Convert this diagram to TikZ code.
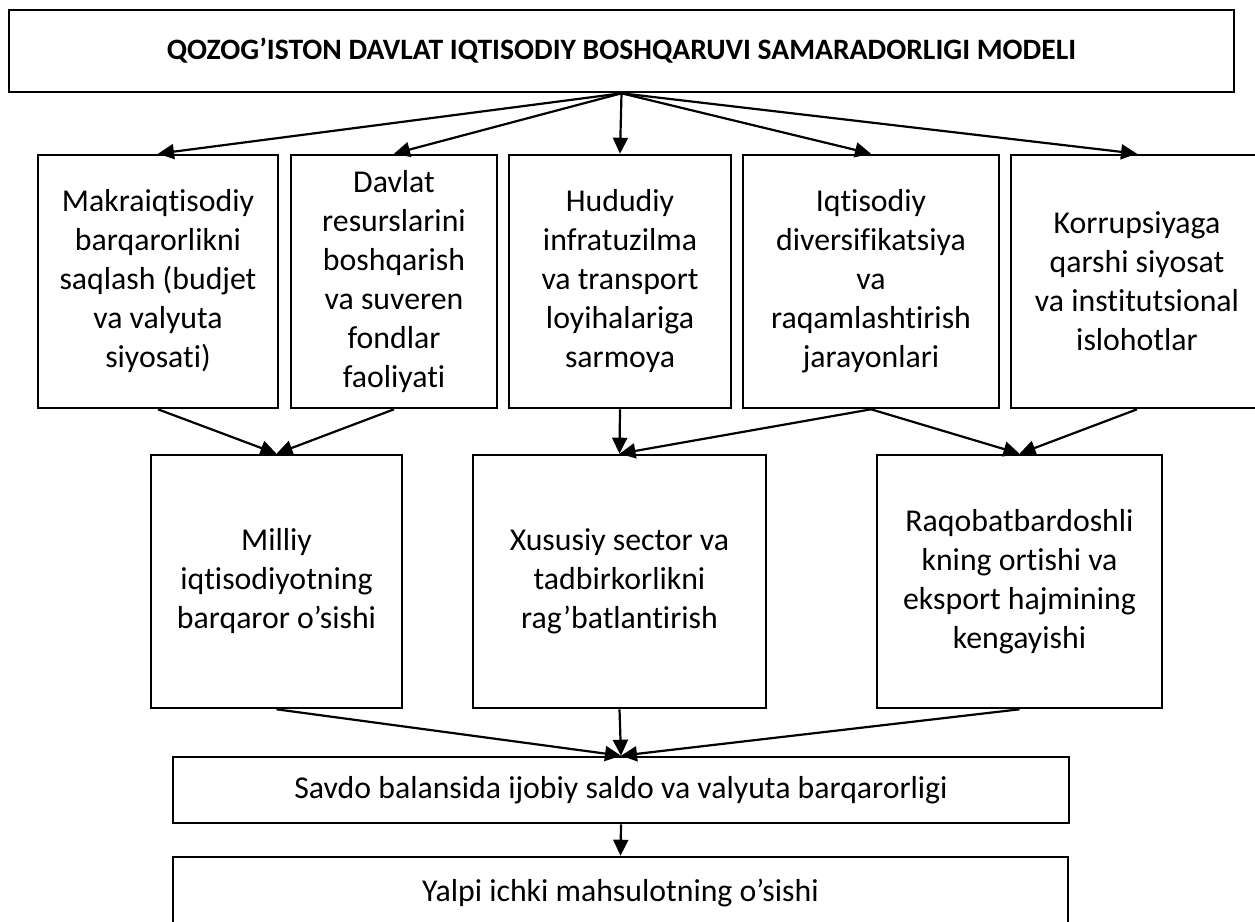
\documentclass[tikz,border=0pt]{standalone}
\usepackage{fontspec}
\setmainfont{Carlito}[RawFeature={-liga;-clig;-calt;-dlig}]
\usetikzlibrary{arrows.meta}
\tikzset{
  model-box/.style={draw, line width=2.6pt, rectangle, align=center, inner sep=0pt,
    font=\fontsize{31.8}{39}\selectfont},
  model-title/.style={model-box, font=\bfseries\fontsize{29.6}{34}\selectfont},
  model-path/.style={line width=2.2pt, -{Triangle[length=16pt,width=15pt]}},
}

\begin{document}
\begin{tikzpicture}[x=1pt, y=-1pt]
\useasboundingbox (0,0) rectangle (1255,921);
\clip (0,0) rectangle (1255,921);
% top box
\node[model-title, minimum width=1225, minimum height=82] (model) at (621.5,51)
  {QOZOG’ISTON DAVLAT IQTISODIY BOSHQARUVI SAMARADORLIGI MODELI};
% directions
\node[model-box, minimum width=240, minimum height=253] (makro) at (158,281.5)
  {Makraiqtisodiy\\barqarorlikni\\saqlash (budjet\\va valyuta\\siyosati)};
\node[model-box, minimum width=206, minimum height=253] (resurs) at (394,281.5)
  {Davlat\\resurslarini\\boshqarish\\va suveren\\fondlar\\faoliyati};
\node[model-box, minimum width=222, minimum height=253] (hudud) at (620,281.5)
  {Hududiy\\infratuzilma\\va transport\\loyihalariga\\sarmoya};
\node[model-box, minimum width=256, minimum height=253] (divers) at (871,281.5)
  {Iqtisodiy\\diversifikatsiya\\va\\raqamlashtirish\\jarayonlari};
\node[model-box, minimum width=252, minimum height=253] (korrup) at (1137,281.5)
  {Korrupsiyaga\\qarshi siyosat\\va institutsional\\islohotlar};
% results
\node[model-box, minimum width=251, minimum height=253] (milliy) at (276.5,581.5)
  {Milliy\\iqtisodiyotning\\barqaror o’sishi};
\node[model-box, minimum width=293, minimum height=253] (xususiy) at (619.5,581.5)
  {Xususiy sector va\\tadbirkorlikni\\rag’batlantirish};
\node[model-box, minimum width=285, minimum height=253] (raqobat) at (1019.5,581.5)
  {Raqobatbardoshli\\kning ortishi va\\eksport hajmining\\kengayishi};
\node[model-box, minimum width=896, minimum height=66] (savdo) at (621,790)
  {Savdo balansida ijobiy saldo va valyuta barqarorligi};
\node[model-box, minimum width=895, minimum height=72] (yalpi) at (620.5,893)
  {Yalpi ichki mahsulotning o’sishi};
% arrows
\foreach \target in {makro,resurs,hudud,divers,korrup} {
  \draw[model-path] (model.south) -- (\target.north);
}
\draw[model-path] (makro.south) -- (milliy.north);
\draw[model-path] (resurs.south) -- (milliy.north);
\draw[model-path] (hudud.south) -- (xususiy.north);
\draw[model-path] (divers.south) -- (xususiy.north);
\draw[model-path] (divers.south) -- (raqobat.north);
\draw[model-path] (korrup.south) -- (raqobat.north);
\foreach \source in {milliy,xususiy,raqobat} {
  \draw[model-path] (\source.south) -- (savdo.north);
}
\draw[model-path] (savdo.south) -- (yalpi.north);
\end{tikzpicture}
\end{document}
